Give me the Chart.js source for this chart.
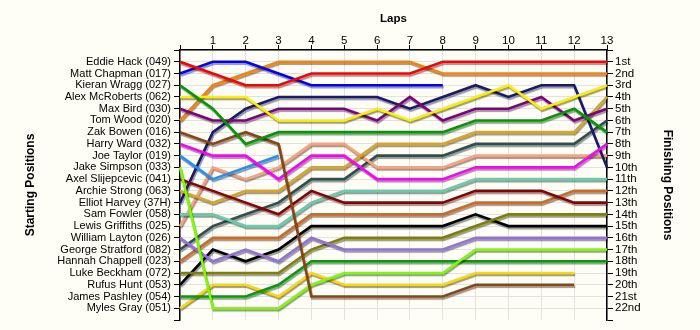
<!DOCTYPE html>
<html>
<head>
<meta charset="utf-8">
<script src="https://cdn.jsdelivr.net/npm/chart.js@4"></script>
<style>
  body { margin: 0; background: #fefef6; }
  canvas { display: block; }
</style>
</head>
<body>
<canvas id="lapChart" width="700" height="330"></canvas>
<script>
const laps = [0, 1, 2, 3, 4, 5, 6, 7, 8, 9, 10, 11, 12, 13];

const drivers = [
    'Eddie Hack (049)', 'Matt Chapman (017)', 'Kieran Wragg (027)', 'Alex McRoberts (062)',
    'Max Bird (030)', 'Tom Wood (020)', 'Zak Bowen (016)', 'Harry Ward (032)',
    'Joe Taylor (019)', 'Jake Simpson (033)', 'Axel Slijepcevic (041)', 'Archie Strong (063)',
    'Elliot Harvey (37H)', 'Sam Fowler (058)', 'Lewis Griffiths (025)', 'William Layton (026)',
    'George Stratford (082)', 'Hannah Chappell (023)', 'Luke Beckham (072)', 'Rufus Hunt (053)',
    'James Pashley (054)', 'Myles Gray (051)'
];

const finishLabels = [
    '1st', '2nd', '3rd', '4th', '5th', '6th', '7th', '8th', '9th', '10th', '11th',
    '12th', '13th', '14th', '15th', '16th', '17th', '18th', '19th', '20th', '21st', '22nd'
];

// position of each driver after each lap (null = no longer running)
const positions = [
    [1, 2, 3, 3, 2, 2, 2, 2, 1, 1, 1, 1, 1, 1],
    [2, 1, 1, 2, 3, 3, 3, 3, 3, null, null, null, null, null],
    [3, 5, 8, 7, 7, 7, 7, 7, 7, 6, 6, 6, 5, 7],
    [4, 4, 4, 6, 6, 6, 5, 6, 5, 4, 3, 5, 4, 3],
    [5, 6, 6, 5, 5, 5, 6, 4, 6, 5, 5, 4, 6, 5],
    [6, 3, 2, 1, 1, 1, 1, 1, 2, 2, 2, 2, 2, 2],
    [7, 8, 7, 8, 21, 21, 21, 21, 21, 20, 20, 20, 20, null],
    [8, 9, 9, 11, 9, 9, 11, 11, 11, 10, 10, 10, 10, 8],
    [9, 11, 10, 9, null, null, null, null, null, null, null, null, null, null],
    [10, 22, 22, 22, 20, 19, 19, 19, 19, 17, 17, 17, 17, 17],
    [11, 12, 13, 14, 12, 13, 13, 13, 13, 12, 12, 12, 13, 13],
    [12, 13, 12, 12, 10, 10, 8, 8, 8, 7, 7, 7, 7, 4],
    [13, 7, 5, 4, 4, 4, 4, 5, 4, 3, 4, 3, 3, 10],
    [14, 14, 15, 15, 13, 12, 12, 12, 12, 11, 11, 11, 11, 11],
    [15, 10, 11, 10, 8, 8, 10, 10, 10, 9, 9, 9, 9, 9],
    [16, 18, 17, 18, 16, 17, 17, 17, 17, 16, 16, 16, 16, 16],
    [17, 15, 14, 13, 11, 11, 9, 9, 9, 8, 8, 8, 8, 6],
    [18, 16, 16, 16, 14, 14, 14, 14, 14, 13, 13, 13, 12, 12],
    [19, 19, 19, 19, 17, 16, 16, 16, 16, 15, 14, 14, 14, 14],
    [20, 17, 18, 17, 15, 15, 15, 15, 15, 14, 15, 15, 15, 15],
    [21, 21, 21, 20, 18, 18, 18, 18, 18, 18, 18, 18, 18, 18],
    [22, 20, 20, 21, 19, 20, 20, 20, 20, 19, 19, 19, 19, null]
];

const colors = [
    '#ff0000', '#0000ff', '#009900', '#ffee00', '#800080', '#ff8000', '#8b4513', '#ff00ff',
    '#1e90ff', '#7cfc00', '#8b0000', '#daa520', '#191970', '#66cdaa', '#ffa07a', '#9370db',
    '#2f4f4f', '#d2691e', '#808000', '#000000', '#00a000', '#ffd700'
];

const shadow = {
    id: 'shadow',
    beforeDatasetDraw(chart) {
        const c = chart.ctx;
        c.save();
        c.shadowColor = 'rgba(0,0,0,0.4)';
        c.shadowOffsetX = 1;
        c.shadowOffsetY = 2;
        c.shadowBlur = 1;
    },
    afterDatasetDraw(chart) {
        chart.ctx.restore();
    }
};

Chart.defaults.font.family = '"Liberation Sans", Arial, sans-serif';
Chart.defaults.font.size = 11;
Chart.defaults.color = '#000';

const gridColor = '#e2e2e2';

new Chart(document.getElementById('lapChart'), {
    type: 'line',
    data: {
        labels: laps,
        datasets: drivers.map((name, i) => ({
            label: name,
            data: positions[i],
            borderColor: colors[i],
            borderWidth: 2.6,
            pointRadius: 0,
            tension: 0,
            spanGaps: false,
            yAxisID: 'y'
        }))
    },
    options: {
        responsive: false,
        animation: false,
        layout: { padding: { left: 0, right: 0, top: 0, bottom: 10 } },
        plugins: {
            legend: { display: false },
            tooltip: { enabled: false }
        },
        scales: {
            x: {
                type: 'category',
                position: 'top',
                offset: false,
                afterFit: s => { s.height = 50; },
                title: { display: true, text: 'Laps', font: { weight: 'bold', size: 11.5 }, padding: { top: 12 } },
                grid: { color: gridColor, tickColor: '#000', tickLength: 5 },
                border: { color: '#000', width: 1.5 },
                ticks: {
                    padding: -3,
                    font: { size: 11.5 },
                    maxRotation: 0,
                    autoSkip: false,
                    callback: (v, i) => (i === 0 ? '' : laps[i])
                }
            },
            y: {
                type: 'linear',
                position: 'left',
                min: 0,
                max: 23,
                reverse: true,
                afterFit: s => { s.width = 180; },
                title: { display: true, text: 'Starting Positions', font: { weight: 'bold', size: 12 }, padding: { top: 23 } },
                grid: {
                    color: c => (c.tick.value === 23 ? 'rgba(0,0,0,0)' : gridColor),
                    tickColor: '#000',
                    tickLength: 6
                },
                border: { color: '#000', width: 1.5 },
                ticks: {
                    stepSize: 1,
                    autoSkip: false,
                    padding: 3,
                    callback: v => drivers[v - 1] || ''
                }
            },
            y2: {
                type: 'linear',
                position: 'right',
                min: 0,
                max: 23,
                reverse: true,
                afterFit: s => { s.width = 93; },
                title: { display: true, text: 'Finishing Positions', font: { weight: 'bold', size: 12 }, padding: { top: 25 } },
                grid: { drawOnChartArea: false, tickColor: '#000', tickLength: 6 },
                border: { color: '#000', width: 1.5 },
                ticks: {
                    stepSize: 1,
                    autoSkip: false,
                    padding: 2,
                    font: { size: 11.5 },
                    callback: v => finishLabels[v - 1] || ''
                }
            }
        }
    },
    plugins: [shadow]
});
</script>
</body>
</html>
